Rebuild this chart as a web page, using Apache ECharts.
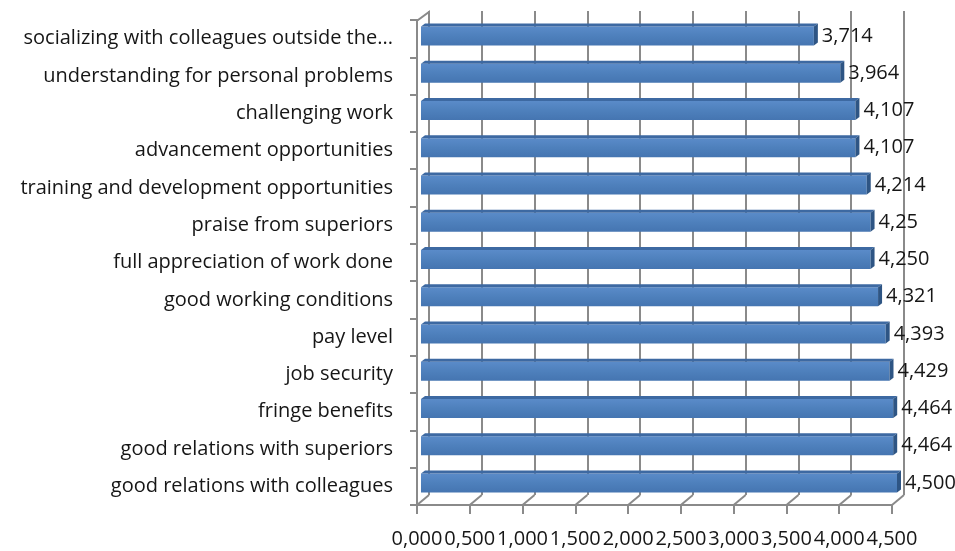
<!DOCTYPE html>
<html>
<head>
<meta charset="utf-8">
<script src="https://cdn.jsdelivr.net/npm/echarts@6/dist/echarts.min.js"></script>
<style>
  html, body { margin: 0; padding: 0; background: #ffffff; }
  #chart { width: 955px; height: 551px; }
</style>
</head>
<body>
<div id="chart"></div>
<script>
// Job satisfaction factors, mean ratings (top to bottom)
const categories = [
  'socializing with colleagues outside the...',
  'understanding for personal problems',
  'challenging work',
  'advancement opportunities',
  'training and development opportunities',
  'praise from superiors',
  'full appreciation of work done',
  'good working conditions',
  'pay level',
  'job security',
  'fringe benefits',
  'good relations with superiors',
  'good relations with colleagues'
];
const values = [3.714, 3.964, 4.107, 4.107, 4.214, 4.25, 4.250, 4.321, 4.393, 4.429, 4.464, 4.464, 4.500];
// decimals shown in each value label
const labelDecimals = [3, 3, 3, 3, 3, 2, 3, 3, 3, 3, 3, 3, 3];
// value axis ticks
const axisMin = 0;
const axisMax = 4.5;
const axisStep = 0.5;

const FONT = '"Open Sans"';
const FONT_SIZE = 20;
const TEXT_COLOR = '#161616';
const GRID_GRAY = '#8a8a8a';
const BAR_THICK = 19;
const DEPTH_X = 4, DEPTH_Y = 3;        // bar depth faces
const FLOOR_X = 12, FLOOR_Y = 10;      // floor depth between front axis and back wall

const tickValues = [];
for (let i = 0; Math.round(i * axisStep * 1000) / 1000 <= axisMax; i++) {
  tickValues.push(Math.round((axisMin + i * axisStep) * 1000) / 1000);
}
const fmtComma = (v, d) => v.toFixed(d).replace('.', ',');

const chart = echarts.init(document.getElementById('chart'));
chart.setOption({
  animation: false,
  backgroundColor: '#ffffff',
  grid: [
    // back wall (gridlines)
    { left: 429, right: 51, top: 11, bottom: 56 },
    // front edge: axes and labels
    { left: 417, right: 63, top: 20, bottom: 46 },
    // bars
    { left: 421, right: 58, top: 17.4, bottom: 49.4 }
  ],
  xAxis: [
    {
      gridIndex: 0, type: 'value', min: axisMin, max: axisMax, interval: axisStep,
      axisLine: { show: false }, axisTick: { show: false }, axisLabel: { show: false },
      splitLine: { show: true, lineStyle: { color: GRID_GRAY, width: 2 } }
    },
    {
      gridIndex: 1, type: 'value', min: axisMin, max: axisMax, interval: axisStep,
      axisLine: { show: true, lineStyle: { color: GRID_GRAY, width: 2 } },
      axisTick: { show: true, length: 9, lineStyle: { color: GRID_GRAY, width: 2 } },
      splitLine: { show: false },
      axisLabel: {
        margin: 24, color: TEXT_COLOR, fontFamily: FONT, fontSize: FONT_SIZE,
        formatter: v => fmtComma(v, 3)
      }
    },
    {
      gridIndex: 2, type: 'value', min: axisMin, max: axisMax, show: false
    }
  ],
  yAxis: [
    { gridIndex: 0, type: 'category', data: categories, inverse: true, show: false },
    {
      gridIndex: 1, type: 'category', data: categories, inverse: true, offset: 4,
      axisLine: { show: true, lineStyle: { color: GRID_GRAY, width: 2 } },
      axisTick: { show: true, length: 7, lineStyle: { color: GRID_GRAY, width: 2 } },
      axisLabel: {
        margin: 20, color: TEXT_COLOR, fontFamily: FONT, fontSize: FONT_SIZE,
        padding: [5, 0, 0, 0]
      }
    },
    { gridIndex: 2, type: 'category', data: categories, inverse: true, show: false }
  ],
  series: [
    {
      // floor depth lines and top of the left wall
      type: 'custom', xAxisIndex: 1, yAxisIndex: 1, silent: true, z: 1,
      data: tickValues.map(v => [v, 0]),
      renderItem: (params, api) => {
        const cs = params.coordSys;
        const x = api.coord([api.value(0), 0])[0];
        const yb = cs.y + cs.height;
        const children = [{
          type: 'line',
          shape: { x1: x, y1: yb, x2: x + FLOOR_X, y2: yb - FLOOR_Y },
          style: { stroke: GRID_GRAY, lineWidth: 2 }
        }];
        if (params.dataIndex === 0) {
          const xl = cs.x - 4;
          children.push({
            type: 'polyline',
            shape: { points: [[xl, cs.y], [xl + 5, cs.y], [x + FLOOR_X, cs.y - 8], [x + FLOOR_X, cs.y - 2]] },
            style: { stroke: GRID_GRAY, lineWidth: 2, fill: null }
          });
        }
        return { type: 'group', children };
      }
    },
    {
      type: 'bar', xAxisIndex: 2, yAxisIndex: 2, z: 3,
      data: values,
      barWidth: BAR_THICK,
      itemStyle: {
        color: new echarts.graphic.LinearGradient(0, 0, 0, 1, [
          { offset: 0, color: '#5a8bc9' },
          { offset: 0.5, color: '#4e80bc' },
          { offset: 1, color: '#4575b1' }
        ])
      },
      label: {
        show: true, position: 'right', distance: 8,
        color: TEXT_COLOR, fontFamily: FONT, fontSize: FONT_SIZE,
        padding: [4, 0, 0, 0],
        formatter: p => fmtComma(values[p.dataIndex], labelDecimals[p.dataIndex])
      }
    },
    {
      // top and end faces of each bar
      type: 'custom', xAxisIndex: 2, yAxisIndex: 2, silent: true, z: 4,
      data: values.map((v, i) => [v, i]),
      renderItem: (params, api) => {
        const i = api.value(1);
        const p0 = api.coord([0, i]);
        const p1 = api.coord([api.value(0), i]);
        const yt = p0[1] - BAR_THICK / 2;
        const yb = p0[1] + BAR_THICK / 2;
        const x0 = p0[0], x1 = p1[0];
        return {
          type: 'group',
          children: [
            {
              type: 'polygon',
              shape: { points: [[x0, yt], [x0 + DEPTH_X, yt - DEPTH_Y], [x1 + DEPTH_X, yt - DEPTH_Y], [x1, yt]] },
              style: { fill: '#3d69a2' }
            },
            {
              type: 'polygon',
              shape: { points: [[x1, yt], [x1 + DEPTH_X, yt - DEPTH_Y], [x1 + DEPTH_X, yb - DEPTH_Y], [x1, yb]] },
              style: { fill: '#2e5584' }
            }
          ]
        };
      }
    }
  ]
});
</script>
</body>
</html>
